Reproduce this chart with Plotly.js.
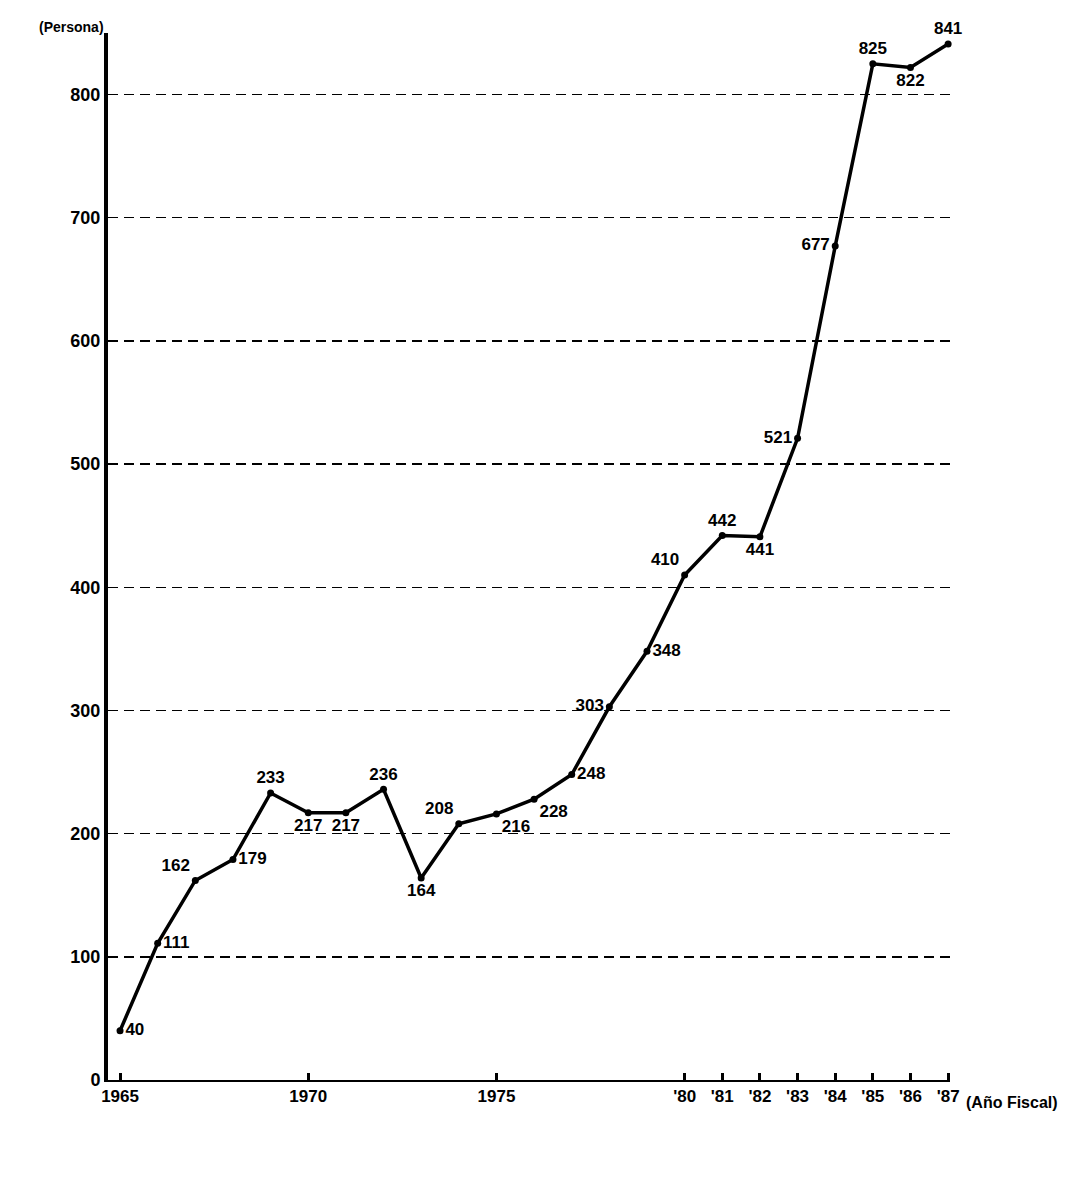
<!DOCTYPE html>
<html><head><meta charset="utf-8">
<script src="https://cdn.plot.ly/plotly-3.0.1.min.js"></script>
<style>html,body{margin:0;padding:0;background:#fff}#c{width:1091px;height:1178px}</style>
</head><body><div id="c"></div>
<script>
const years = [1965,1966,1967,1968,1969,1970,1971,1972,1973,1974,1975,1976,1977,1978,1979,1980,1981,1982,1983,1984,1985,1986,1987];
const persons = [40,111,162,179,233,217,217,236,164,208,216,228,248,303,348,410,442,441,521,677,825,822,841];
const labelPos = ['middle right','middle right','top left','middle right','top center','bottom center','bottom center','top center','bottom center','top left','bottom right','bottom right','middle right','middle left','middle right','top left','top center','bottom center','middle left','middle left','top center','bottom center','top center'];
const tickYears = [1965,1970,1975,1980,1981,1982,1983,1984,1985,1986,1987];
const tickLabels = ['1965','1970','1975',"'80","'81","'82","'83","'84","'85","'86","'87"];
const yTicks = [0,100,200,300,400,500,600,700,800];

const fam = 'Liberation Sans, Arial, sans-serif';
const trace = {
  x: years, y: persons, type:'scatter', mode:'lines+markers+text',
  line:{color:'#000', width:3.5}, marker:{color:'#000', size:7},
  text: persons.map(String), textposition: labelPos,
  textfont:{family:fam, size:17, color:'#000', weight:'bold'},
  cliponaxis:false, hoverinfo:'none'
};
const layout = {
  width:1091, height:1178,
  margin:{l:108, r:141, t:33, b:98},
  paper_bgcolor:'#fff', plot_bgcolor:'#fff',
  showlegend:false,
  xaxis:{range:[1964.68,1987.05], tickvals:tickYears, ticktext:tickLabels,
    ticks:'inside', ticklen:7, tickwidth:3, tickcolor:'#000',
    showgrid:false, zeroline:false, showline:true, linecolor:'#000', linewidth:2,
    tickfont:{family:fam, size:17, color:'#000', weight:'bold'}},
  yaxis:{range:[0,850], tickvals:yTicks, ticks:'', showline:true, linecolor:'#000', linewidth:4,
    showgrid:true, gridcolor:'#000', griddash:'10px,6px', gridwidth:1.4, zeroline:false,
    tickfont:{family:fam, size:18, color:'#000', weight:'bold'}},
  annotations:[
    {text:'(Persona)', xref:'paper', yref:'paper', x:0, y:1, xanchor:'right', yanchor:'bottom', yshift:-4, xshift:-2, showarrow:false,
     font:{family:fam, size:14, color:'#000', weight:'bold'}},
    {text:'(Año Fiscal)', xref:'paper', yref:'paper', x:1, y:0, xanchor:'left', yanchor:'top', yshift:-12, xshift:14, showarrow:false,
     font:{family:fam, size:16, color:'#000', weight:'bold'}}
  ]
};
Plotly.newPlot('c',[trace],layout,{displayModeBar:false, staticPlot:true});
</script></body></html>
